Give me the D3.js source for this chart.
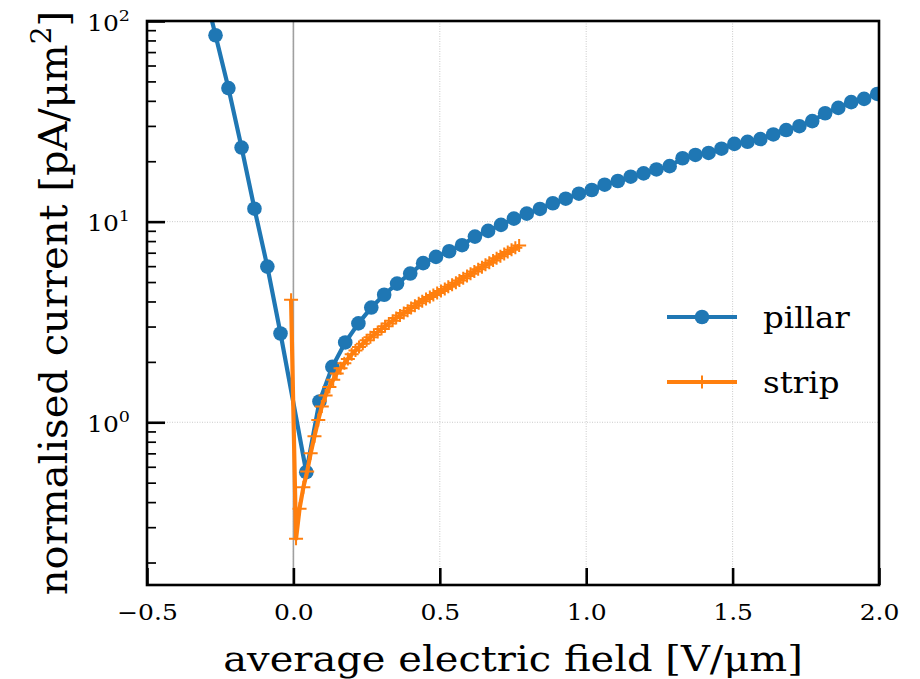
<!DOCTYPE html>
<html>
<head>
<meta charset="utf-8">
<script src="https://cdn.jsdelivr.net/npm/d3@7"></script>
<style>
  body { margin: 0; background: #fff; }
  svg { display: block; font-family: "DejaVu Serif", serif; }
</style>
</head>
<body>
<svg id="chart" width="920" height="679"></svg>
<script>
// pillar sample: average field [V/um] and normalised current [pA/um^2]
const pillarField = [
  -0.310, -0.266, -0.222, -0.177, -0.133, -0.089, -0.044,
  0.044, 0.089, 0.133, 0.177, 0.222, 0.266, 0.310, 0.354, 0.399, 0.443,
  0.487, 0.532, 0.576, 0.620, 0.665, 0.709, 0.753, 0.797, 0.842, 0.886,
  0.930, 0.975, 1.019, 1.063, 1.108, 1.152, 1.196, 1.240, 1.285, 1.329,
  1.373, 1.418, 1.462, 1.506, 1.551, 1.595, 1.639, 1.683, 1.728, 1.772,
  1.816, 1.861, 1.905, 1.949, 1.994
]
const pillarCurrent = [
  155, 84.9, 46.3, 23.4, 11.6, 5.97, 2.77,
  0.564, 1.27, 1.89, 2.50, 3.11, 3.73, 4.32, 4.91, 5.51, 6.21,
  6.67, 7.12, 7.63, 8.42, 8.99, 9.63, 10.35, 10.96, 11.57, 12.35,
  13.01, 13.78, 14.38, 15.28, 15.94, 16.75, 17.4, 18.2, 18.9, 20.7,
  21.5, 22.0, 23.1, 24.4, 25.0, 25.8, 27.2, 28.6, 29.9, 31.7,
  34.7, 36.9, 39.4, 40.9, 43.3
]

// strip sample
const stripField = [
  -0.008, 0.009, 0.021, 0.034, 0.047, 0.059, 0.072, 0.085, 0.097, 0.110,
  0.123, 0.136, 0.148, 0.161, 0.174, 0.186, 0.199, 0.212, 0.224, 0.237,
  0.250, 0.263, 0.275, 0.288, 0.301, 0.313, 0.326, 0.339, 0.351, 0.364,
  0.377, 0.390, 0.402, 0.415, 0.428, 0.440, 0.453, 0.466, 0.478, 0.491,
  0.504, 0.517, 0.529, 0.542, 0.555, 0.567, 0.580, 0.593, 0.605, 0.618,
  0.631, 0.644, 0.656, 0.669, 0.682, 0.694, 0.707, 0.720, 0.732, 0.745,
  0.758, 0.771
]
const stripCurrent = [
  4.08, 0.263, 0.371, 0.474, 0.569, 0.700, 0.851, 1.026, 1.20, 1.36,
  1.50, 1.63, 1.75, 1.86, 1.97, 2.07, 2.18, 2.28, 2.37, 2.46,
  2.56, 2.65, 2.73, 2.82, 2.92, 3.01, 3.11, 3.21, 3.31, 3.41,
  3.50, 3.60, 3.71, 3.81, 3.92, 4.01, 4.11, 4.21, 4.31, 4.41,
  4.51, 4.62, 4.73, 4.84, 4.96, 5.09, 5.22, 5.36, 5.50, 5.64,
  5.79, 5.93, 6.09, 6.24, 6.40, 6.56, 6.72, 6.89, 7.06, 7.24,
  7.42, 7.60
]

const xTicks = [-0.5, 0.0, 0.5, 1.0, 1.5, 2.0]
const yTicks = [1, 10, 100]
const yExponents = ['0', '1', '2']
const seriesNames = ['pillar', 'strip']
const seriesColors = ['#1f77b4', '#ff7f0e']

const margin = {top: 21, right: 41, bottom: 94, left: 147}
const width = 920 - margin.left - margin.right
const height = 679 - margin.top - margin.bottom
// text in the picture is a little squashed vertically
const squash = 0.89

const svg = d3.select('#chart')
const g = svg.append('g').attr('transform', 'translate(' + margin.left + ',' + margin.top + ')')

// scales
const x = d3.scaleLinear().domain([-0.5, 2.0]).range([0, width])
const y = d3.scaleLog().domain([0.1545, 100]).range([height, 0])

g.append('clipPath').attr('id', 'plotclip')
  .append('rect').attr('width', width).attr('height', height)

// grid
g.append('g')
  .selectAll('line')
  .data(xTicks)
  .join('line')
    .attr('x1', d => x(d)).attr('x2', d => x(d))
    .attr('y1', 0).attr('y2', height)
    .attr('stroke', '#c4c4c4').attr('stroke-width', 0.9)
    .attr('stroke-dasharray', '1,1.5')
g.append('g')
  .selectAll('line')
  .data(yTicks)
  .join('line')
    .attr('x1', 0).attr('x2', width)
    .attr('y1', d => y(d)).attr('y2', d => y(d))
    .attr('stroke', '#c4c4c4').attr('stroke-width', 0.9)
    .attr('stroke-dasharray', '1,1.5')

// zero field line
g.append('line')
  .attr('x1', x(0)).attr('x2', x(0))
  .attr('y1', 0).attr('y2', height)
  .attr('stroke', '#a0a0a0').attr('stroke-width', 1.6)

const pillar = pillarField.map((f, i) => ({f: f, c: pillarCurrent[i]}))
const strip = stripField.map((f, i) => ({f: f, c: stripCurrent[i]}))

const line = d3.line().x(d => x(d.f)).y(d => y(d.c))
const plot = g.append('g').attr('clip-path', 'url(#plotclip)')

// pillar
plot.append('path')
  .datum(pillar)
  .attr('d', line)
  .attr('fill', 'none')
  .attr('stroke', seriesColors[0])
  .attr('stroke-width', 4.2)
  .attr('stroke-linejoin', 'round')
plot.append('g')
  .selectAll('circle')
  .data(pillar)
  .join('circle')
    .attr('cx', d => x(d.f))
    .attr('cy', d => y(d.c))
    .attr('r', 7.3)
    .attr('fill', seriesColors[0])

// strip
plot.append('path')
  .datum(strip)
  .attr('d', line)
  .attr('fill', 'none')
  .attr('stroke', seriesColors[1])
  .attr('stroke-width', 4.2)
  .attr('stroke-linejoin', 'round')
plot.append('g')
  .selectAll('path')
  .data(strip)
  .join('path')
    .attr('d', d => {
      const px = x(d.f), py = y(d.c)
      return 'M' + (px - 7) + ',' + py + 'H' + (px + 7) + 'M' + px + ',' + (py - 6.5) + 'V' + (py + 6.5)
    })
    .attr('stroke', seriesColors[1])
    .attr('stroke-width', 2)
    .attr('fill', 'none')

// axes, ticks pointing inward
const xAxis = g.append('g')
  .attr('transform', 'translate(0,' + height + ')')
  .call(d3.axisBottom(x).tickValues(xTicks).tickSize(-17).tickFormat(''))
xAxis.select('.domain').remove()
xAxis.selectAll('.tick line').attr('stroke', '#000').attr('stroke-width', 2.6)
xAxis.selectAll('.tick').append('text')
  .attr('transform', 'translate(0,35) scale(1,' + squash + ')')
  .attr('text-anchor', 'middle')
  .attr('font-family', 'DejaVu Serif').attr('font-size', 25).attr('fill', '#000')
  .text(d => d3.format('.1f')(d))

const minorY = []
;[0.1, 1, 10].forEach(p => {
  for (let m = 2; m <= 9; m++) {
    const v = +(m * p).toPrecision(3)
    if (v >= y.domain()[0] && v <= y.domain()[1]) minorY.push(v)
  }
})
const yMinor = g.append('g')
  .call(d3.axisLeft(y).tickValues(minorY).tickSize(-9).tickFormat(''))
yMinor.select('.domain').remove()
yMinor.selectAll('.tick line').attr('stroke', '#000').attr('stroke-width', 1.7)

const yAxis = g.append('g')
  .call(d3.axisLeft(y).tickValues(yTicks).tickSize(-18).tickFormat(''))
yAxis.select('.domain').remove()
yAxis.selectAll('.tick line').attr('stroke', '#000').attr('stroke-width', 2.6)

// y tick labels as 10 with superscript exponent
yAxis.selectAll('.tick').each(function(d, i) {
  const t = d3.select(this).append('text')
    .attr('transform', 'translate(-17,9) scale(1,' + squash + ')')
    .attr('text-anchor', 'end')
    .attr('font-family', 'DejaVu Serif')
    .attr('font-size', 25).attr('fill', '#000')
  t.append('tspan').text('10')
  t.append('tspan').attr('dy', -11).attr('font-size', 17.5).text(yExponents[i])
})

// frame
g.append('rect')
  .attr('width', width).attr('height', height)
  .attr('fill', 'none').attr('stroke', '#000').attr('stroke-width', 2.6)

// axis titles
svg.append('text')
  .attr('transform', 'translate(' + (margin.left + width / 2) + ',671) scale(1,' + squash + ')')
  .attr('text-anchor', 'middle')
  .attr('font-size', 40)
  .text('average electric field [V/μm]')

const yt = svg.append('text')
  .attr('transform', 'translate(67,' + (margin.top + height / 2) + ') rotate(-90)')
  .attr('text-anchor', 'middle')
  .attr('font-size', 40)
yt.append('tspan').text('normalised current [pA/μm')
yt.append('tspan').attr('dy', -16).attr('font-size', 28).text('2')
yt.append('tspan').attr('dy', 16).text(']')

// legend
const legend = g.append('g').attr('transform', 'translate(' + (667 - margin.left) + ',' + (317 - margin.top) + ')')
seriesNames.forEach((name, i) => {
  const row = legend.append('g').attr('transform', 'translate(0,' + (i * 65) + ')')
  row.append('line')
    .attr('x1', 0).attr('x2', 70).attr('y1', 0).attr('y2', 0)
    .attr('stroke', seriesColors[i]).attr('stroke-width', 4.2)
  if (i === 0) {
    row.append('circle').attr('cx', 35).attr('cy', 0).attr('r', 7.3).attr('fill', seriesColors[i])
  } else {
    row.append('path').attr('d', 'M28,0H42M35,-6.5V6.5')
      .attr('stroke', seriesColors[i]).attr('stroke-width', 2)
  }
  row.append('text')
    .attr('transform', 'translate(96,11) scale(1,' + squash + ')')
    .attr('font-size', 32.5)
    .text(name)
})
</script>
</body>
</html>
